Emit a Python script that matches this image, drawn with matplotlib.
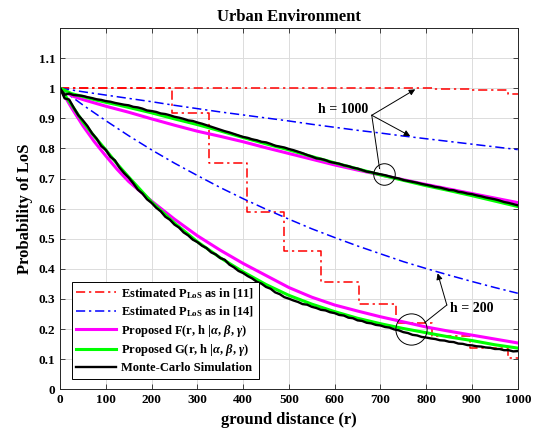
import numpy as np
import matplotlib
matplotlib.use("Agg")
import matplotlib.pyplot as plt

plt.rcParams['font.family'] = ['Liberation Serif', 'DejaVu Serif']
plt.rcParams['font.weight'] = 'bold'
plt.rcParams['mathtext.fontset'] = 'custom'
plt.rcParams['mathtext.rm'] = 'Liberation Serif:bold'
plt.rcParams['mathtext.it'] = 'Liberation Serif:bold:italic'
plt.rcParams['mathtext.bf'] = 'Liberation Serif:bold'

# ---- step model from [11] ----
step_edges_200 = [0, 244, 326, 408, 489, 571, 653, 734, 812, 896, 978, 1000]
step_level_200 = [1.000, 0.917, 0.751, 0.590, 0.460, 0.357, 0.283, 0.220, 0.177, 0.138, 0.104, 0.104]
step_edges_1000 = [0, 816, 897, 979, 1000]
step_level_1000 = [1.000, 0.998, 0.994, 0.979, 0.979]

# ---- exponential model from [14] ----
r_ref14 = [0, 50, 100, 150, 200, 250, 300, 350, 400, 450, 500, 550, 600, 650, 700, 750, 800, 850, 900, 950, 1000]
ref14_h200 = [1.000, 0.944, 0.892, 0.842, 0.795, 0.751, 0.710, 0.670, 0.633, 0.598, 0.565, 0.533,
              0.504, 0.476, 0.450, 0.424, 0.401, 0.379, 0.358, 0.338, 0.319]
ref14_h1000 = [1.000, 0.988, 0.977, 0.966, 0.955, 0.943, 0.932, 0.921, 0.911, 0.901, 0.891, 0.880,
               0.870, 0.860, 0.851, 0.841, 0.832, 0.823, 0.814, 0.805, 0.796]

# ---- proposed F ----
r_fit = [0, 25, 50, 75, 100, 125, 150, 200, 250, 300, 350, 400, 450, 500, 550, 600, 650, 700,
         750, 800, 850, 900, 950, 1000]
F_h200 = [1.000, 0.935, 0.875, 0.822, 0.775, 0.730, 0.690, 0.625, 0.565, 0.510, 0.462, 0.418,
          0.378, 0.338, 0.306, 0.280, 0.260, 0.241, 0.224, 0.207, 0.193, 0.180, 0.167, 0.154]
F_h1000 = [1.000, 0.975, 0.962, 0.951, 0.940, 0.930, 0.920, 0.898, 0.877, 0.857, 0.840, 0.822,
           0.802, 0.783, 0.764, 0.745, 0.728, 0.712, 0.696, 0.680, 0.665, 0.650, 0.635, 0.620]

# ---- proposed G ----
G_h200 = [1.000, 0.945, 0.888, 0.840, 0.795, 0.748, 0.705, 0.622, 0.552, 0.490, 0.437, 0.390,
          0.348, 0.312, 0.283, 0.258, 0.236, 0.218, 0.202, 0.188, 0.174, 0.162, 0.148, 0.137]
G_h1000 = [1.000, 0.982, 0.972, 0.962, 0.953, 0.945, 0.936, 0.918, 0.898, 0.879, 0.858, 0.836,
           0.815, 0.795, 0.773, 0.752, 0.732, 0.712, 0.694, 0.676, 0.660, 0.643, 0.625, 0.607]

# ---- Monte-Carlo simulation (sampled every 10 m) ----
r_mc = np.arange(0, 1001, 10)
mc_h200 = [1.000, 0.966, 0.962, 0.935, 0.910, 0.893, 0.874, 0.850, 0.832, 0.808,
           0.795, 0.772, 0.760, 0.736, 0.718, 0.703, 0.684, 0.663, 0.650, 0.631,
           0.619, 0.603, 0.591, 0.573, 0.563, 0.547, 0.537, 0.521, 0.511, 0.497,
           0.489, 0.477, 0.469, 0.455, 0.448, 0.436, 0.430, 0.414, 0.405, 0.393,
           0.386, 0.376, 0.368, 0.357, 0.351, 0.340, 0.334, 0.322, 0.316, 0.306,
           0.301, 0.295, 0.290, 0.283, 0.281, 0.274, 0.270, 0.264, 0.262, 0.256,
           0.253, 0.247, 0.245, 0.238, 0.236, 0.229, 0.227, 0.221, 0.219, 0.214,
           0.212, 0.207, 0.205, 0.199, 0.196, 0.190, 0.187, 0.181, 0.179, 0.174,
           0.172, 0.169, 0.167, 0.163, 0.162, 0.158, 0.157, 0.152, 0.151, 0.147,
           0.146, 0.143, 0.142, 0.139, 0.138, 0.134, 0.134, 0.130, 0.130, 0.126, 0.127]
mc_h1000 = [1.000, 0.978, 0.982, 0.977, 0.976, 0.974, 0.970, 0.967, 0.963, 0.961,
            0.957, 0.955, 0.951, 0.948, 0.945, 0.943, 0.938, 0.936, 0.932, 0.926,
            0.924, 0.921, 0.916, 0.914, 0.910, 0.905, 0.902, 0.898, 0.893, 0.891,
            0.886, 0.882, 0.877, 0.872, 0.867, 0.862, 0.857, 0.853, 0.848, 0.843,
            0.838, 0.835, 0.830, 0.827, 0.822, 0.820, 0.815, 0.809, 0.806, 0.803,
            0.798, 0.794, 0.789, 0.784, 0.778, 0.773, 0.767, 0.765, 0.761, 0.755,
            0.752, 0.749, 0.744, 0.741, 0.736, 0.733, 0.728, 0.723, 0.721, 0.717,
            0.714, 0.711, 0.707, 0.703, 0.700, 0.695, 0.692, 0.689, 0.686, 0.682,
            0.679, 0.676, 0.672, 0.670, 0.666, 0.662, 0.661, 0.656, 0.654, 0.650,
            0.648, 0.644, 0.641, 0.637, 0.634, 0.631, 0.627, 0.622, 0.619, 0.615, 0.611]

x_ticks = list(range(0, 1001, 100))
y_ticks = [0, 0.1, 0.2, 0.3, 0.4, 0.5, 0.6, 0.7, 0.8, 0.9, 1, 1.1]
y_tick_labels = ['0', '0.1', '0.2', '0.3', '0.4', '0.5', '0.6', '0.7', '0.8', '0.9', '1', '1.1']

fig = plt.figure(figsize=(5.36, 4.36), dpi=100)
ax = fig.add_axes([0.112, 0.107, 0.854, 0.829])

dd = (6, 2.5, 1.5, 2.5)
l1, = ax.step(step_edges_200, step_level_200, where='post', color='#ff0000', lw=1.1, dashes=dd)
ax.step(step_edges_1000, step_level_1000, where='post', color='#ff0000', lw=1.1, dashes=dd)
l2, = ax.plot(r_ref14, ref14_h200, color='#0000ff', lw=1.1, dashes=dd)
ax.plot(r_ref14, ref14_h1000, color='#0000ff', lw=1.1, dashes=dd)
l3, = ax.plot(r_fit, F_h200, color='#ff00ff', lw=2.2)
ax.plot(r_fit, F_h1000, color='#ff00ff', lw=2.2)
l4, = ax.plot(r_fit, G_h200, color='#00ff00', lw=2.2)
ax.plot(r_fit, G_h1000, color='#00ff00', lw=2.2)
l5, = ax.plot(r_mc, mc_h200, color='k', lw=1.7)
ax.plot(r_mc, mc_h1000, color='k', lw=1.7)

ax.set_xlim(0, 1000)
ax.set_ylim(0, 1.2)
ax.set_xticks(x_ticks)
ax.set_yticks(y_ticks)
ax.set_yticklabels(y_tick_labels)
ax.tick_params(direction='in', top=True, right=True, labelsize=9.5, length=3.5,
               color='#262626', width=0.6)
for s in ax.spines.values():
    s.set_color('#262626')
    s.set_linewidth(0.7)
ax.grid(True, color='#dcdcdc', lw=0.7)
ax.set_axisbelow(True)

ax.set_title('Urban Environment', fontsize=12, fontweight='bold', pad=5)
ax.set_xlabel('ground distance (r)', fontsize=12, fontweight='bold', labelpad=4)
ax.set_ylabel('Probability of LoS', fontsize=12, fontweight='bold', labelpad=4)

# annotations for h = 1000
ax.text(618, 0.930, 'h = 1000', fontsize=10, fontweight='bold', ha='center', va='center')
ap = dict(arrowstyle='-|>', color='k', lw=0.7, mutation_scale=9, shrinkA=0, shrinkB=0)
ax.annotate('', xy=(776, 0.996), xytext=(681, 0.910), arrowprops=ap)
ax.annotate('', xy=(765, 0.841), xytext=(681, 0.910), arrowprops=ap)
ax.plot([681, 698], [0.910, 0.733], color='k', lw=0.7)
ax.plot([707], [0.715], marker='o', ms=15.5, mfc='none', mec='k', mew=0.7)

# annotations for h = 200
ax.text(899, 0.268, 'h = 200', fontsize=10, fontweight='bold', ha='center', va='center')
ax.annotate('', xy=(825, 0.385), xytext=(845, 0.280), arrowprops=ap)
ax.plot([845, 797], [0.280, 0.222], color='k', lw=0.7)
ax.plot([767], [0.202], marker='o', ms=22.5, mfc='none', mec='k', mew=0.7)

labels = [r'Estimated P$_{\mathrm{LoS}}$ as in [11]',
          r'Estimated P$_{\mathrm{LoS}}$ as in [14]',
          r'Proposed F(r, h |$\alpha$, $\beta$, $\gamma$)',
          r'Proposed G(r, h |$\alpha$, $\beta$, $\gamma$)',
          'Monte-Carlo Simulation']
leg = ax.legend([l1, l2, l3, l4, l5], labels, loc='lower left',
                bbox_to_anchor=(0.0256, 0.030), borderaxespad=0, fontsize=9,
                handlelength=3.2, labelspacing=0.3, handletextpad=0.4,
                borderpad=0.35, fancybox=False, framealpha=1, edgecolor='k')
leg.get_frame().set_linewidth(0.7)

fig.savefig('out.png', dpi=100)
